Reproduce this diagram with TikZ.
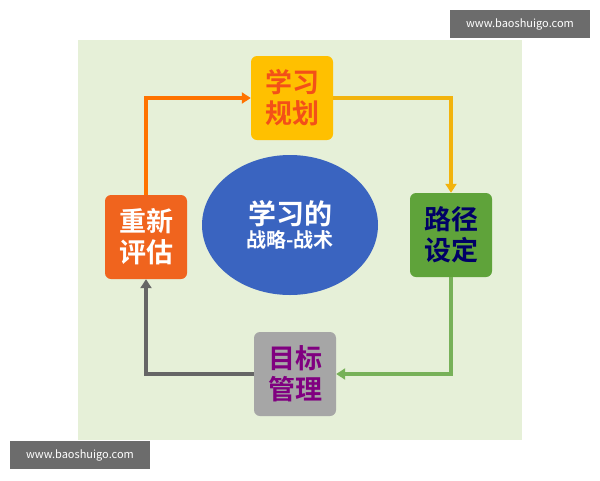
\documentclass[tikz,border=0pt]{standalone}
\usepackage{fontspec}
\setmainfont{Noto Sans CJK SC}[BoldFont={Noto Sans CJK SC Bold}]
\usetikzlibrary{arrows.meta,shapes.geometric}
\definecolor{bg}{HTML}{E6F0D8}
\definecolor{yel}{HTML}{FFC000}
\definecolor{grn}{HTML}{5FA33A}
\definecolor{gry}{HTML}{A6A6A6}
\definecolor{org}{HTML}{F0641E}
\definecolor{blu}{HTML}{3A64C0}
\tikzset{box/.style={rounded corners=6pt,minimum width=82pt,minimum height=84pt,align=center,font=\bfseries\fontsize{27}{31}\selectfont},
 conn/.style={line width=3.5pt,-{Triangle[length=9pt,width=11pt]}},
 wm/.style={fill=gray!85!black,text=white,minimum width=140pt,minimum height=28pt,font=\fontsize{11}{13}\selectfont}}
\begin{document}
\begin{tikzpicture}[x=1pt,y=-1pt]
\useasboundingbox (0,0) rectangle (600,480);
\fill[white] (0,0) rectangle (600,480);
\fill[bg] (78,40) rectangle (522,440);
\node[box,fill=yel,text=org!80!red] (plan) at (292,98) {学习\\规划};
\node[box,fill=grn,text=blue!40!black] (path) at (451,235) {路径\\设定};
\node[box,fill=gry,text=violet] (goal) at (295,374) {目标\\管理};
\node[box,fill=org,text=white] (eval) at (146,237) {重新\\评估};
\node[ellipse,fill=blu,minimum width=176pt,minimum height=140pt,text=white,align=center,font=\bfseries] (c) at (290,225)
 {{\fontsize{28}{32}\selectfont 学习的}\\[2pt]{\fontsize{20}{24}\selectfont 战略-战术}};
\draw[conn,draw=orange!90!red] (eval.north) |- (plan.west);
\draw[conn,draw=yel!80!brown] (plan.east) -| (path.north);
\draw[conn,draw=grn!85!white] (path.south) |- (goal.east);
\draw[conn,draw=gray!80!black] (goal.west) -| (eval.south);
\node[wm] (w1) at (520,24) {www.baoshuigo.com};
\node[wm] (w2) at (80,455) {www.baoshuigo.com};
\end{tikzpicture}
\end{document}
